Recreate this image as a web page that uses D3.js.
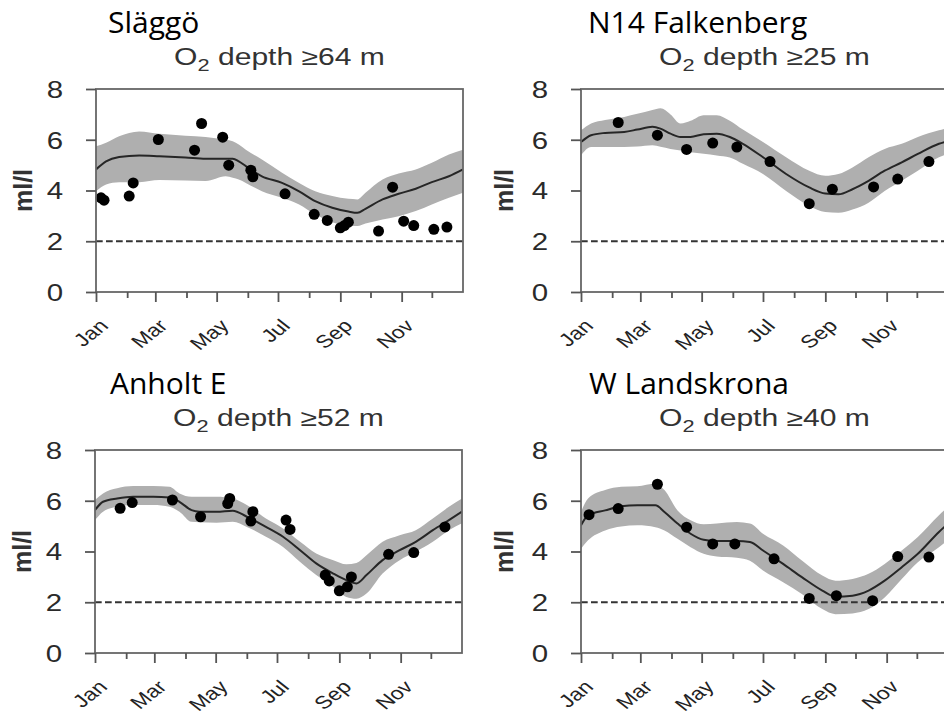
<!DOCTYPE html>
<html>
<head>
<meta charset="utf-8">
<script src="https://cdn.jsdelivr.net/npm/d3@7"></script>
<style>
  html, body { margin: 0; padding: 0; background: #fff; }
  svg { display: block; }
</style>
</head>
<body>
<script>
// ---------- shared axis data ----------
const monthNames = ['Jan','Feb','Mar','Apr','May','Jun','Jul','Aug','Sep','Oct','Nov','Dec'];
const monthStartDays = [0,31,59,90,120,151,181,212,243,273,304,334];
const yTickValues = [0,2,4,6,8];
const yMax = 8;
const yearDays = 365;
const threshold = 2;

// ---------- stations ----------
const stationNames = ['Släggö','N14 Falkenberg','Anholt E','W Landskrona'];
const stationDepths = [64,25,52,40];

// Släggö
const slaggoObsDay = [5,8,33,37,62,98,105,126,132,154,156,188,217,230,243,247,251,281,295,306,316,336,349];
const slaggoObsVal = [3.71,3.62,3.78,4.30,6.01,5.59,6.64,6.10,5.00,4.80,4.54,3.87,3.06,2.82,2.53,2.62,2.75,2.40,4.13,2.79,2.62,2.47,2.56];
const slaggoCurveDay = [0,10,23,43,63,89,109,129,136,142,149,165,185,202,218,235,251,260,268,285,301,318,334,351,365];
const slaggoMean = [4.83,5.15,5.32,5.38,5.35,5.30,5.25,5.25,5.25,5.15,4.96,4.56,4.30,3.97,3.58,3.32,3.17,3.12,3.28,3.65,3.87,4.07,4.33,4.56,4.83];
const slaggoHi   = [5.74,5.88,6.14,6.33,6.24,6.16,6.11,6.00,5.94,5.81,5.61,5.22,4.70,4.30,3.97,3.78,3.67,3.65,3.91,4.43,4.67,4.83,5.09,5.42,5.61];
const slaggoLo   = [3.97,4.24,4.33,4.33,4.41,4.39,4.37,4.56,4.50,4.43,4.30,3.97,3.71,3.45,3.06,2.75,2.62,2.60,2.70,2.86,2.99,3.19,3.45,3.71,3.91];

// N14 Falkenberg
const falkObsDay = [37,76,105,131,155,188,227,250,291,315,346];
const falkObsVal = [6.68,6.18,5.62,5.87,5.71,5.14,3.48,4.05,4.14,4.45,5.14];
const falkCurveDay = [0,10,24,43,56,71,79,89,99,109,122,135,148,161,181,204,227,243,256,270,286,302,319,335,356,365];
const falkMean = [5.91,6.18,6.27,6.31,6.40,6.51,6.44,6.24,6.11,6.11,6.22,6.24,6.11,5.84,5.31,4.65,4.12,3.88,3.85,4.05,4.38,4.78,5.11,5.44,5.84,5.95];
const falkHi   = [6.37,6.64,6.78,6.90,7.02,7.17,7.24,7.00,6.64,6.75,6.97,6.97,6.75,6.40,5.91,5.31,4.78,4.58,4.65,4.91,5.31,5.64,5.84,6.11,6.37,6.47];
const falkLo   = [5.38,5.71,5.71,5.71,5.73,5.78,5.72,5.64,5.58,5.51,5.45,5.38,5.30,5.05,4.65,3.98,3.39,3.15,3.12,3.25,3.52,3.98,4.38,4.78,5.31,5.45];

// Anholt E
const anholtObsDay = [25,37,77,105,132,134,157,155,190,194,229,233,243,251,255,292,317,348];
const anholtObsVal = [5.70,5.93,6.03,5.37,5.89,6.09,5.57,5.20,5.24,4.87,3.07,2.84,2.45,2.61,3.00,3.89,3.96,4.97];
const anholtCurveDay = [0,8,22,38,58,74,84,96,104,121,137,151,170,187,204,220,237,250,260,270,286,303,319,336,352,365];
const anholtMean = [5.63,5.96,6.09,6.16,6.16,6.13,5.96,5.63,5.57,5.57,5.61,5.37,4.97,4.58,4.05,3.53,3.13,2.87,2.74,3.07,3.66,4.05,4.38,4.84,5.24,5.57];
const anholtHi   = [6.03,6.29,6.49,6.58,6.58,6.55,6.29,6.16,6.16,6.16,6.09,5.83,5.30,4.91,4.38,3.92,3.66,3.50,3.55,3.85,4.38,4.64,4.84,5.30,5.76,6.09];
const anholtLo   = [5.24,5.57,5.76,5.83,5.83,5.76,5.57,5.17,5.15,5.13,5.17,4.97,4.58,4.18,3.59,3.07,2.61,2.21,2.14,2.34,3.13,3.66,3.99,4.38,4.84,5.11];

// W Landskrona
const landsObsDay = [8,37,76,105,131,153,192,227,254,290,315,346];
const landsObsVal = [5.45,5.69,6.65,4.96,4.30,4.30,3.71,2.15,2.26,2.06,3.80,3.78];
const landsCurveDay = [0,7,24,40,56,74,83,96,109,122,135,155,168,181,201,220,240,253,270,286,302,319,335,356,365];
const landsMean = [5.03,5.42,5.62,5.78,5.82,5.82,5.56,5.10,4.70,4.46,4.41,4.41,4.37,4.04,3.51,2.98,2.46,2.22,2.26,2.46,2.85,3.38,3.91,4.77,5.10];
const landsHi   = [5.56,6.09,6.42,6.55,6.57,6.68,6.42,5.62,5.23,5.07,5.10,5.16,5.10,4.70,4.24,3.64,3.05,2.85,2.92,3.12,3.51,4.04,4.57,5.43,5.75];
const landsLo   = [4.11,4.44,4.83,4.99,5.03,4.96,4.83,4.50,4.17,3.91,3.80,3.75,3.64,3.25,2.79,2.32,1.73,1.53,1.56,1.73,2.19,2.92,3.58,4.17,4.45];

const stationObsDay = [slaggoObsDay, falkObsDay, anholtObsDay, landsObsDay];
const stationObsVal = [slaggoObsVal, falkObsVal, anholtObsVal, landsObsVal];
const stationCurveDay = [slaggoCurveDay, falkCurveDay, anholtCurveDay, landsCurveDay];
const stationMean = [slaggoMean, falkMean, anholtMean, landsMean];
const stationHi = [slaggoHi, falkHi, anholtHi, landsHi];
const stationLo = [slaggoLo, falkLo, anholtLo, landsLo];

// ---------- layout ----------
const W = 944, H = 713;
const plotW = 367, plotH = 203;
const panelPos = [[96,89],[581,89],[95,450],[581,450]];
const titleOffsetX = [12,7,15,8];
const yLabelOffsetX = [-64,-68,-64,-68];
const textStretch = 1.28;

const svg = d3.select('body').append('svg')
  .attr('width', W).attr('height', H)
  .attr('viewBox', `0 0 ${W} ${H}`);

const x = d3.scaleLinear().domain([0, yearDays]).range([0, plotW]);
const y = d3.scaleLinear().domain([0, yMax]).range([plotH, 0]);

const tickFont = "'Liberation Sans', Arial, sans-serif";
const titleFont = "'Open Sans', 'Noto Sans', sans-serif";

stationNames.forEach((name, i) => {
  const [left, top] = panelPos[i];
  const g = svg.append('g').attr('transform', `translate(${left},${top})`);

  const clipId = 'clip' + i;
  g.append('clipPath').attr('id', clipId)
    .append('rect').attr('x', 0).attr('y', 0).attr('width', plotW).attr('height', plotH);

  const curve = stationCurveDay[i].map((d, k) => ({
    d, m: stationMean[i][k], lo: stationLo[i][k], hi: stationHi[i][k]
  }));

  const plot = g.append('g').attr('clip-path', `url(#${clipId})`);

  // uncertainty band
  plot.append('path')
    .datum(curve)
    .attr('fill', '#afafaf')
    .attr('d', d3.area()
      .x(p => x(p.d)).y0(p => y(p.lo)).y1(p => y(p.hi))
      .curve(d3.curveMonotoneX));

  // mean line
  plot.append('path')
    .datum(curve)
    .attr('fill', 'none')
    .attr('stroke', '#262626')
    .attr('stroke-width', 2)
    .attr('d', d3.line().x(p => x(p.d)).y(p => y(p.m)).curve(d3.curveMonotoneX));

  // threshold dashed line
  g.append('line')
    .attr('x1', 0).attr('x2', plotW)
    .attr('y1', y(threshold)).attr('y2', y(threshold))
    .attr('stroke', '#333').attr('stroke-width', 2)
    .attr('stroke-dasharray', '6.7,3.3');

  // observations
  g.append('g').selectAll('circle')
    .data(stationObsDay[i].map((d, k) => ({ d, v: stationObsVal[i][k] })))
    .join('circle')
    .attr('cx', p => x(p.d)).attr('cy', p => y(p.v))
    .attr('r', 5.5)
    .attr('fill', '#000');

  // frame
  g.append('rect')
    .attr('x', 0).attr('y', 0).attr('width', plotW).attr('height', plotH)
    .attr('fill', 'none').attr('stroke', '#666').attr('stroke-width', 1.8);

  // y axis
  const yAxis = g.append('g')
    .call(d3.axisLeft(y).tickValues(yTickValues).tickSize(10).tickSizeOuter(0));
  yAxis.select('.domain').remove();
  yAxis.selectAll('line').attr('stroke', '#555').attr('stroke-width', 1.8);
  yAxis.selectAll('text')
    .attr('font-family', tickFont).attr('font-size', 23).attr('fill', '#2a2a2a')
    .attr('text-anchor', 'end')
    .attr('x', 0)
    .attr('dy', '0.36em')
    .attr('transform', `translate(-33,0) scale(${textStretch},1)`);

  // x axis
  const xAxis = g.append('g').attr('transform', `translate(0,${plotH})`)
    .call(d3.axisBottom(x).tickValues(monthStartDays).tickSize(10).tickSizeOuter(0)
      .tickFormat((d, k) => (k % 2 === 0 ? monthNames[k] : '')));
  xAxis.select('.domain').remove();
  xAxis.selectAll('.tick line')
    .attr('stroke', '#555').attr('stroke-width', 1.8)
    .attr('y2', (d, k) => (k % 2 === 0 ? 10 : 6));
  xAxis.selectAll('.tick text')
    .attr('font-family', tickFont).attr('font-size', 18).attr('fill', '#222')
    .attr('text-anchor', 'end')
    .attr('dy', null).attr('y', 0)
    .attr('transform', `translate(13,35) scale(${textStretch},1) rotate(-45)`);

  // y label
  g.append('text')
    .attr('transform', `translate(${yLabelOffsetX[i]},${plotH / 2}) rotate(-90)`)
    .attr('text-anchor', 'middle')
    .attr('font-family', tickFont).attr('font-size', 25).attr('font-weight', 'bold')
    .attr('fill', '#333')
    .text('ml/l');

  // station title
  g.append('text')
    .attr('x', titleOffsetX[i]).attr('y', -56)
    .attr('font-family', titleFont).attr('font-size', 30).attr('fill', '#000')
    .text(name);

  // subtitle
  const sub = g.append('text')
    .attr('transform', `translate(${plotW / 2},-24) scale(${textStretch},1)`)
    .attr('text-anchor', 'middle')
    .attr('font-family', tickFont).attr('font-size', 23.5).attr('fill', '#333');
  sub.append('tspan').text('O');
  sub.append('tspan').attr('font-size', 17).attr('dy', 6).text('2');
  sub.append('tspan').attr('dy', -6).text(' depth \u2265' + stationDepths[i] + ' m');
});
</script>
</body>
</html>
